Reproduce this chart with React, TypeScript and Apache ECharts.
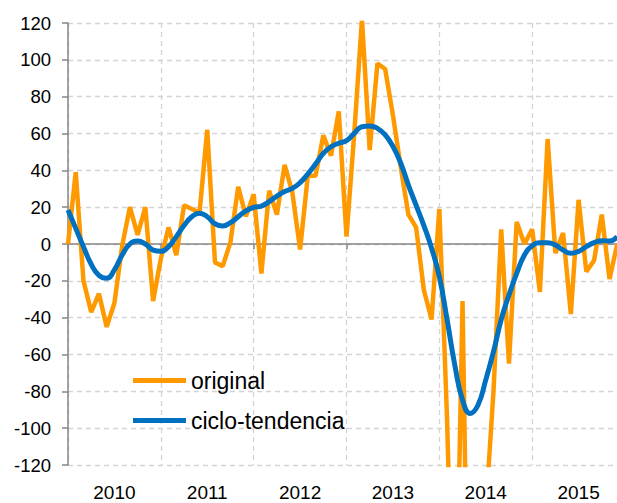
import React, { useEffect, useRef } from "react";
import * as echarts from "echarts";

const years = ["2010", "2011", "2012", "2013", "2014", "2015"];
const yTicks = { min: -120, max: 120, step: 20 };

const original = [
  0, 39, -20, -37, -27, -45, -32, -1, 20, 5, 20, -31,
  -8, 9, -6, 21, 19, 17, 62, -10, -12, 1, 31, 15,
  27, -16, 29, 16, 43, 28, -3, 37, 37, 59, 48, 72,
  4, 60, 122, 51, 98, 95, 70, 42, 16, 9, -25, -41,
  19, -95, -250, -31, -300, -250, -145, -80, 8, -65, 12, 0,
  8, -26, 57, -5, 6, -38, 24, -15, -9, 16, -19, 0,
];

const cicloTendencia = [
  18.5, 8.5, -1.5, -11, -17, -18.6, -14, -6, 0, 1.6, 0, -3.3,
  -4, -1.4, 4, 10, 14.8, 16.7, 14.8, 11, 9.8, 11.6, 14.8, 18,
  19.9, 20.6, 23, 26, 28.5, 30.2, 33.3, 38, 43.4, 49.2, 52.8, 54.7,
  56.1, 60.1, 63.7, 64.1, 62.8, 59.2, 53, 44, 32, 21, 10, -2.3,
  -17.7, -41, -65.7, -84.7, -92, -87.4, -73.8, -58.5, -41, -27.7, -16, -6,
  -1, 0.7, 0.7, -0.5, -3.3, -5, -4, -1.4, 0.7, 1.8, 1.6, 4,
];

const seriesNames = ["original", "ciclo-tendencia"];
const FONT = "'Liberation Sans', Arial, sans-serif";

export default function App() {
  const ref = useRef<HTMLDivElement>(null);
  useEffect(() => {
    if (!ref.current) return;
    const chart = echarts.init(ref.current, undefined, { renderer: "svg" });
    const months = years.length * 12;
    chart.setOption({
      animation: false,
      backgroundColor: "#ffffff",
      grid: {
        left: 68,
        right: -8,
        top: 23,
        bottom: 38,
        containLabel: false,
        outerBoundsMode: "none",
      },
      legend: {
        data: seriesNames,
        orient: "vertical",
        left: 133,
        top: 369,
        itemWidth: 53,
        itemHeight: 5,
        itemGap: 17,
        icon: "rect",
        padding: 0,
        textStyle: { fontSize: 23, fontFamily: FONT, color: "#000", lineHeight: 20 },
      },
      xAxis: [
        {
          type: "value",
          position: "bottom",
          min: 0,
          max: months,
          interval: 6,
          axisLine: { show: false, onZero: false },
          axisTick: { show: false },
          splitLine: { show: false },
          axisLabel: {
            margin: 18,
            fontSize: 19,
            fontFamily: FONT,
            color: "#000",
            showMinLabel: true,
            showMaxLabel: true,
            formatter: (v: number) => {
              const k = Math.round(v);
              return k % 12 === 6 ? years[(k - 6) / 12] : "";
            },
          },
        },
        {
          type: "value",
          position: "top",
          min: 0,
          max: months,
          interval: 12,
          axisLine: { show: true, onZero: true, lineStyle: { color: "#868686", width: 1.5 } },
          axisTick: { show: true, inside: true, length: 5, lineStyle: { color: "#868686", width: 1.5 } },
          axisLabel: { show: false },
          splitLine: { show: true, lineStyle: { color: "#d4d4d4", type: [5, 4], width: 1.3 } },
        },
      ],
      yAxis: {
        type: "value",
        min: yTicks.min,
        max: yTicks.max,
        interval: yTicks.step,
        axisLine: { show: true, lineStyle: { color: "#868686", width: 1.5 } },
        axisTick: { show: true, length: 6, lineStyle: { color: "#868686", width: 1.5 } },
        axisLabel: { margin: 17, fontSize: 18.5, fontFamily: FONT, color: "#000" },
        splitLine: { show: true, lineStyle: { color: "#d4d4d4", type: [5, 4], width: 1.3 } },
      },
      series: [
        {
          name: seriesNames[0],
          type: "line",
          xAxisIndex: 1,
          data: original.map((v, i) => [i, v]),
          showSymbol: false,
          symbol: "none",
          clip: true,
          color: "#FF9900",
          lineStyle: { color: "#FF9900", width: 4.5 },
        },
        {
          name: seriesNames[1],
          type: "line",
          xAxisIndex: 1,
          data: cicloTendencia.map((v, i) => [i, v]),
          showSymbol: false,
          symbol: "none",
          smooth: true,
          clip: true,
          color: "#0070C0",
          lineStyle: { color: "#0070C0", width: 5 },
        },
      ],
    });
    return () => chart.dispose();
  }, []);
  return (
    <div
      ref={ref}
      style={{ position: "fixed", left: 0, top: 0, width: 617, height: 503, background: "#fff" }}
    />
  );
}
